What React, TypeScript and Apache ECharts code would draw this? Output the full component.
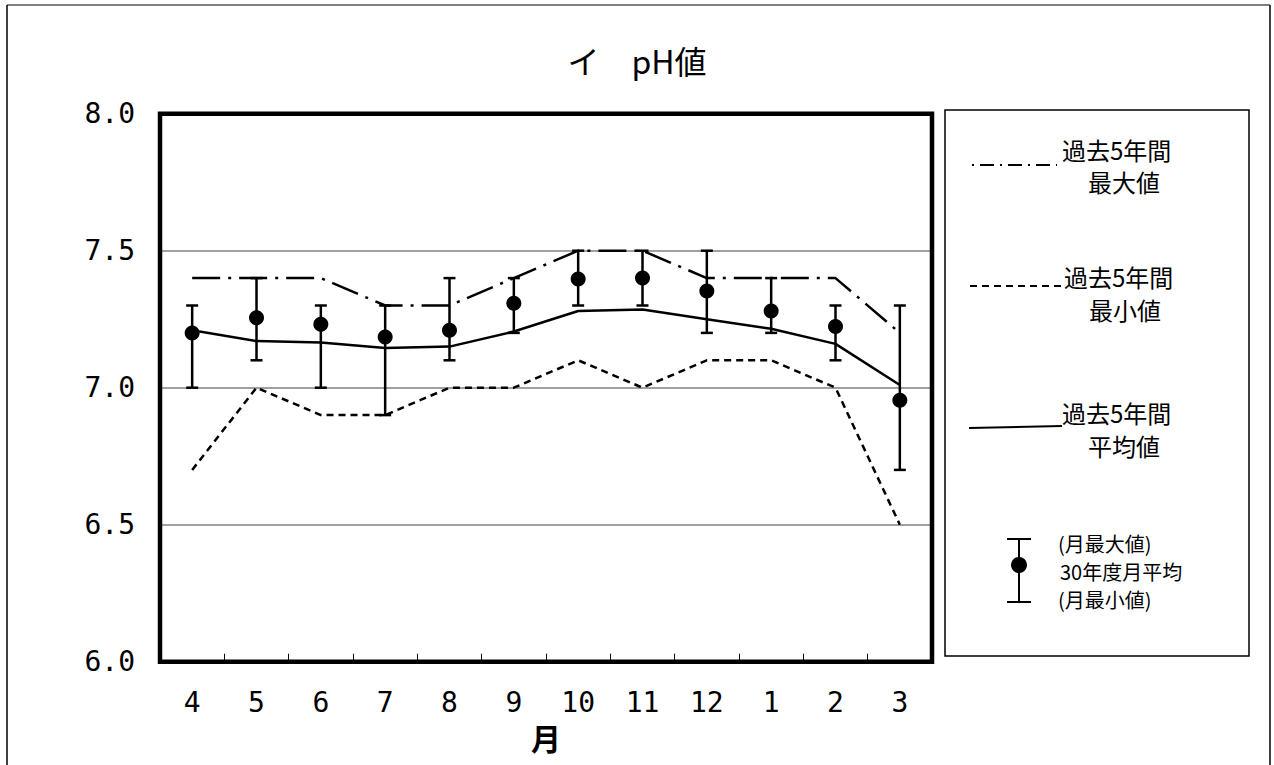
import React, { useEffect, useRef } from "react";
import * as echarts from "echarts";

const months = ["4", "5", "6", "7", "8", "9", "10", "11", "12", "1", "2", "3"];
const maxPast5 = [7.4, 7.4, 7.4, 7.3, 7.3, 7.4, 7.5, 7.5, 7.4, 7.4, 7.4, 7.2];
const minPast5 = [6.7, 7.0, 6.9, 6.9, 7.0, 7.0, 7.1, 7.0, 7.1, 7.1, 7.0, 6.5];
const avgPast5 = [7.21, 7.17, 7.165, 7.145, 7.15, 7.205, 7.28, 7.285, 7.25, 7.215, 7.16, 7.01];
const monthMean = [7.2, 7.255, 7.232, 7.185, 7.21, 7.308, 7.397, 7.4, 7.353, 7.28, 7.223, 6.954];
const monthMax = [7.3, 7.4, 7.3, 7.3, 7.4, 7.4, 7.5, 7.5, 7.5, 7.4, 7.3, 7.3];
const monthMin = [7.0, 7.1, 7.0, 6.9, 7.1, 7.2, 7.3, 7.3, 7.2, 7.2, 7.1, 6.7];
const yTicks = { min: 6, max: 8, interval: 0.5 };

const CJK = '"Noto Sans CJK JP", "Noto Sans", sans-serif';
const MONO = '"DejaVu Sans Mono", "Liberation Mono", monospace';

const GRID = { left: 160, top: 113.7, width: 772, height: 548 };

export default function App() {
  const ref = useRef<HTMLDivElement>(null);
  useEffect(() => {
    if (!ref.current) return;
    const chart = echarts.init(ref.current, undefined, { renderer: "svg" });
    const errData = months.map((_, i) => [i, monthMin[i], monthMax[i]]);
    const legendText = (text: string, x: number, y: number, size: number, align: string = "left") => ({
      type: "text",
      x,
      y,
      z: 10,
      style: {
        text,
        fill: "#000",
        font: `${size}px ${CJK}`,
        lineHeight: size + 1,
        textAlign: align,
        textVerticalAlign: "middle",
      },
    });
    chart.setOption({
      animation: false,
      backgroundColor: "#fff",
      title: {
        text: "イ　pH値",
        left: "center",
        top: 39,
        textStyle: { fontFamily: CJK, fontSize: 32, fontWeight: "normal", color: "#000" },
      },
      grid: { ...GRID, show: false },
      xAxis: {
        type: "category",
        data: months,
        boundaryGap: true,
        axisLine: { show: false },
        axisTick: { show: true, inside: true, length: 8, interval: 0, lineStyle: { color: "#000", width: 1 } },
        axisLabel: { margin: 27, fontFamily: MONO, fontSize: 28, color: "#000", interval: 0 },
        name: "月",
        nameLocation: "middle",
        nameGap: 60,
        nameTextStyle: { fontFamily: CJK, fontSize: 30, color: "#000", fontWeight: "bold" },
        splitLine: { show: false },
      },
      yAxis: {
        type: "value",
        min: yTicks.min,
        max: yTicks.max,
        interval: yTicks.interval,
        axisLine: { show: false },
        axisTick: { show: false },
        axisLabel: {
          margin: 25,
          fontFamily: MONO,
          fontSize: 28,
          color: "#000",
          formatter: (v: number) => v.toFixed(1),
        },
        splitLine: { show: true, lineStyle: { color: "#808080", width: 1.5 } },
      },
      series: [
        {
          name: "過去5年間最大値",
          type: "line",
          data: maxPast5,
          symbol: "none",
          lineStyle: { color: "#000", width: 2.5, type: [28, 8, 3, 8] },
          z: 2,
        },
        {
          name: "過去5年間最小値",
          type: "line",
          data: minPast5,
          symbol: "none",
          lineStyle: { color: "#000", width: 2.5, type: [7, 5] },
          z: 2,
        },
        {
          name: "過去5年間平均値",
          type: "line",
          data: avgPast5,
          symbol: "none",
          lineStyle: { color: "#000", width: 2.5, type: "solid" },
          z: 2,
        },
        {
          name: "月最大・最小",
          type: "custom",
          data: errData,
          z: 3,
          renderItem: (params: any, api: any) => {
            const x = api.value(0);
            const lo = api.coord([x, api.value(1)]);
            const hi = api.coord([x, api.value(2)]);
            const cap = 6;
            const st = { stroke: "#000", lineWidth: 2.5 };
            return {
              type: "group",
              children: [
                { type: "line", shape: { x1: lo[0], y1: lo[1], x2: hi[0], y2: hi[1] }, style: st },
                { type: "line", shape: { x1: hi[0] - cap, y1: hi[1], x2: hi[0] + cap, y2: hi[1] }, style: st },
                { type: "line", shape: { x1: lo[0] - cap, y1: lo[1], x2: lo[0] + cap, y2: lo[1] }, style: st },
              ],
            };
          },
        },
        {
          name: "30年度月平均",
          type: "scatter",
          data: monthMean,
          symbol: "circle",
          symbolSize: 15,
          itemStyle: { color: "#000", opacity: 1 },
          z: 4,
        },
      ],
      graphic: [
        { type: "line", shape: { x1: 7, y1: 5, x2: 1270, y2: 5 }, style: { stroke: "#808080", lineWidth: 2 } },
        { type: "line", shape: { x1: 7, y1: 5, x2: 7, y2: 765 }, style: { stroke: "#000", lineWidth: 1.5 } },
        { type: "line", shape: { x1: 1270, y1: 5, x2: 1270, y2: 765 }, style: { stroke: "#000", lineWidth: 1.5 } },
        {
          type: "rect",
          z: 10,
          shape: { x: GRID.left, y: GRID.top, width: GRID.width, height: GRID.height },
          style: { fill: "none", stroke: "#000", lineWidth: 4.5 },
        },
        {
          type: "rect",
          shape: { x: 945, y: 110, width: 304, height: 546 },
          style: { fill: "#fff", stroke: "#000", lineWidth: 1.5 },
        },
        {
          type: "line",
          z: 10,
          shape: { x1: 972, y1: 165, x2: 1057, y2: 165 },
          style: { stroke: "#000", lineWidth: 2, lineDash: [2, 6, 14, 6] },
        },
        legendText("過去5年間", 1062, 149, 24),
        legendText("最大値", 1124, 181, 24, "center"),
        {
          type: "line",
          z: 10,
          shape: { x1: 970, y1: 286, x2: 1062, y2: 286 },
          style: { stroke: "#000", lineWidth: 2, lineDash: [7, 5] },
        },
        legendText("過去5年間", 1064, 276, 24),
        legendText("最小値", 1125, 309, 24, "center"),
        {
          type: "line",
          z: 10,
          shape: { x1: 969, y1: 428, x2: 1062, y2: 426 },
          style: { stroke: "#000", lineWidth: 2 },
        },
        legendText("過去5年間", 1062, 412, 24),
        legendText("平均値", 1124, 445, 24, "center"),
        { type: "line", z: 10, shape: { x1: 1019, y1: 539, x2: 1019, y2: 602 }, style: { stroke: "#000", lineWidth: 2 } },
        { type: "line", z: 10, shape: { x1: 1007, y1: 539, x2: 1031, y2: 539 }, style: { stroke: "#000", lineWidth: 2 } },
        { type: "line", z: 10, shape: { x1: 1007, y1: 602, x2: 1031, y2: 602 }, style: { stroke: "#000", lineWidth: 2 } },
        { type: "circle", z: 10, shape: { cx: 1019, cy: 565, r: 8 }, style: { fill: "#000" } },
        legendText("(月最大値)", 1058, 543, 20),
        legendText("30年度月平均", 1060, 571, 20),
        legendText("(月最小値)", 1058, 599, 20),
      ],
    });
    return () => chart.dispose();
  }, []);
  return (
    <div
      ref={ref}
      style={{ position: "fixed", left: 0, top: 0, width: 1274, height: 765, background: "#fff" }}
    />
  );
}
